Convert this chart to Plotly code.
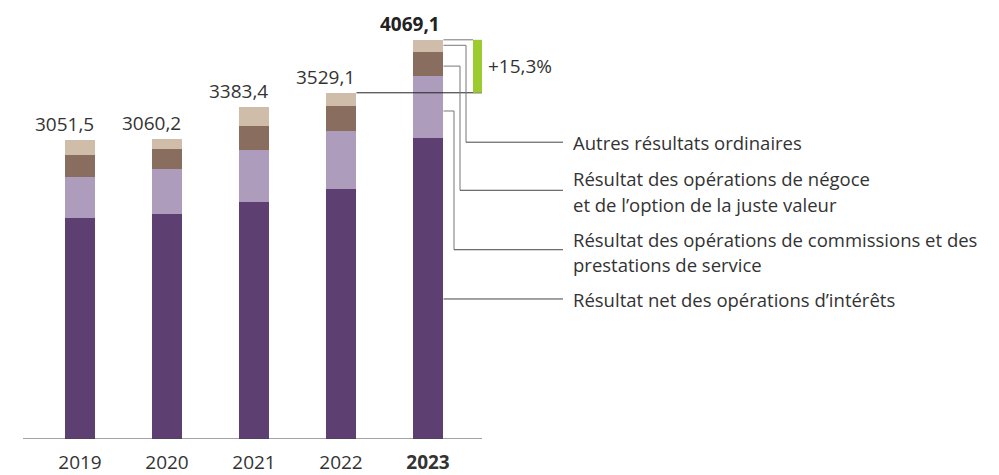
import plotly.graph_objects as go

# données (millions)
annees = ["2019", "2020", "2021", "2022", "2023"]
interets = [2253, 2293, 2414, 2545, 3071]
commissions = [414, 455, 535, 596, 626]
negoce = [232, 212, 239, 253, 253]
autres = [152.5, 100.2, 195.4, 135.1, 119.1]
totaux = [3051.5, 3060.2, 3383.4, 3529.1, 4069.1]
totaux_txt = ["3051,5", "3060,2", "3383,4", "3529,1", "4069,1"]
variation_txt = "+15,3%"

COULEURS = {
    "interets": "#5E3F72",
    "commissions": "#AE9CBC",
    "negoce": "#896E5F",
    "autres": "#CFBDA9",
}
VERT = "#9BCB2F"
TEXTE = "#333333"
FONT = "Open Sans, Noto Sans, sans-serif"

W, H = 999, 475
BAS = 32  # marge basse
HAUT_PLOT = H - BAS
PAS = 87  # px entre deux barres
XMIN = -80 / PAS
XMAX = XMIN + W / PAS
YMAX = 4475
BAR_W = 0.356


def px_x(p):
    return XMIN + p / PAS


def px_y(p):
    return YMAX * (HAUT_PLOT - p) / HAUT_PLOT


fig = go.Figure()
for nom, vals in [("interets", interets), ("commissions", commissions),
                  ("negoce", negoce), ("autres", autres)]:
    fig.add_bar(x=annees, y=vals, name=nom, marker_color=COULEURS[nom],
                marker_line_width=0, width=BAR_W, hoverinfo="skip")

# valeurs au-dessus des barres, alignées sur le bord droit (axe catégoriel -> index)
for i, (t, txt) in enumerate(zip(totaux, totaux_txt)):
    gras = i == len(annees) - 1
    fig.add_annotation(x=i + BAR_W / 2, y=t, text=f"<b>{txt}</b>" if gras else txt,
                       showarrow=False, xanchor="right", yanchor="bottom", yshift=1,
                       xshift=-1 if gras else 1,
                       font=dict(size=19, color="#222" if gras else TEXTE, family=FONT))


def ligne(x0, y0, x1, y1, couleur="#555", w=1):
    fig.add_shape(type="line", x0=x0, y0=y0, x1=x1, y1=y1, xref="x", yref="y",
                  line=dict(color=couleur, width=w), layer="above")


bord_2023 = len(annees) - 1 + BAR_W / 2
bord_2022 = len(annees) - 2 + BAR_W / 2
x_vert_g, x_vert_d = px_x(473), px_x(482)

# axe de base
ligne(px_x(23), 0, x_vert_d, 0, "#444")

# progression 2022 -> 2023
ligne(bord_2022, totaux[3], x_vert_d, totaux[3], "#222")
ligne(bord_2023, totaux[4], x_vert_g, totaux[4], "#777")
fig.add_shape(type="rect", x0=x_vert_g, x1=x_vert_d, y0=totaux[3], y1=totaux[4],
              xref="x", yref="y", fillcolor=VERT, line_width=0, layer="above")
fig.add_annotation(x=px_x(486), y=(totaux[3] + totaux[4]) / 2, text=variation_txt,
                   showarrow=False, xanchor="left",
                   font=dict(size=19, color=TEXTE, family=FONT))

# légendes avec traits de rappel
x_fin = px_x(563)
rappels = [
    (45.7, 466, 143.5),
    (66.7, 460, 192),
    (112, 454, 252),
    (301.7, None, 301.7),
]
for y_dep, x_coude, y_arr in rappels:
    if x_coude is None:
        ligne(bord_2023, px_y(y_dep), x_fin, px_y(y_arr), "#444")
        continue
    xc = px_x(x_coude)
    ligne(bord_2023, px_y(y_dep), xc, px_y(y_dep), "#777")
    ligne(xc, px_y(y_dep), xc, px_y(y_arr), "#777")
    ligne(xc, px_y(y_arr), x_fin, px_y(y_arr), "#444")

lignes_legende = [
    ("Autres résultats ordinaires", 144),
    ("Résultat des opérations de négoce", 180),
    ("et de l’option de la juste valeur", 206),
    ("Résultat des opérations de commissions et des", 242),
    ("prestations de service", 267),
    ("Résultat net des opérations d’intérêts", 302),
]
for txt, yp in lignes_legende:
    fig.add_annotation(x=px_x(571), y=px_y(yp), text=txt, showarrow=False,
                       xanchor="left", yanchor="middle",
                       font=dict(size=18.5, color=TEXTE, family=FONT))

fig.update_layout(
    width=W, height=H,
    barmode="stack",
    showlegend=False,
    plot_bgcolor="white", paper_bgcolor="white",
    margin=dict(l=0, r=0, t=0, b=BAS),
    xaxis=dict(type="category", range=[XMIN, XMAX], showgrid=False, zeroline=False,
               showline=False, ticks="", tickvals=annees,
               ticktext=annees[:-1] + [f"<b>{annees[-1]}</b>"],
               ticklabelstandoff=10,
               tickfont=dict(size=19, color=TEXTE, family=FONT)),
    yaxis=dict(visible=False, range=[0, YMAX], fixedrange=True),
)

# la page a une marge de 8px par défaut
fig.write_html("out.html", config={"displayModeBar": False},
               post_script="document.body.style.margin='0';")
